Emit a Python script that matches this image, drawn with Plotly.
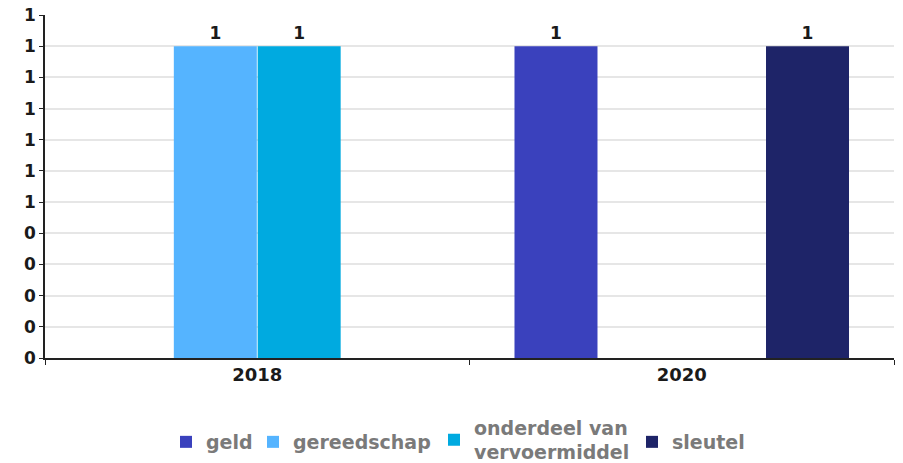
import plotly.graph_objects as go

categories = ["2018", "2020"]
series_names = ["geld", "gereedschap", "onderdeel van<br>vervoermiddel", "sleutel"]
series_values = [
    [0, 1],  # geld
    [1, 0],  # gereedschap
    [1, 0],  # onderdeel van vervoermiddel
    [0, 1],  # sleutel
]
series_colors = ["#3a41bd", "#55b4ff", "#00aae0", "#1e2468"]
y_tick_values = [0, 0.1, 0.2, 0.3, 0.4, 0.5, 0.6, 0.7, 0.8, 0.9, 1.0, 1.1]
y_tick_labels = ["0", "0", "0", "0", "0", "1", "1", "1", "1", "1", "1", "1"]

W, H = 903, 463
label_font = dict(family="DejaVu Sans", size=17, color="#1a1a1a", weight="bold")
legend_font = dict(family="DejaVu Sans", size=19, color="#7a7a7a", weight="bold")

# one legend box per series so every entry sits centred on the same row
legend_ids = ["legend", "legend2", "legend3", "legend4"]
legend_left_px = [166, 253, 434, 632]
legend_mid_px = [442, 442, 440, 442]

fig = go.Figure()
for name, vals, color, lid in zip(series_names, series_values, series_colors, legend_ids):
    fig.add_trace(go.Bar(
        x=categories,
        y=vals,
        name=name,
        legend=lid,
        marker=dict(color=color, line=dict(width=0)),
        text=[f"{v:.0f}" if v else "" for v in vals],
        textposition="outside",
        cliponaxis=False,
        textfont=label_font,
    ))

legend_layout = {}
for lid, left, mid in zip(legend_ids, legend_left_px, legend_mid_px):
    legend_layout[lid] = dict(
        orientation="h",
        xref="container",
        x=left / W,
        xanchor="left",
        yref="container",
        y=(H - mid) / H,
        yanchor="middle",
        font=legend_font,
        itemwidth=30,
        bgcolor="rgba(0,0,0,0)",
    )

fig.update_layout(
    width=W,
    height=H,
    margin=dict(l=45, r=9, t=15, b=105, autoexpand=False),
    plot_bgcolor="white",
    paper_bgcolor="white",
    barmode="group",
    bargap=0.21,
    bargroupgap=0.01,
    showlegend=True,
    xaxis=dict(
        showline=True,
        linecolor="#222222",
        linewidth=1.5,
        ticks="outside",
        tickson="boundaries",
        ticklen=5,
        tickcolor="#222222",
        showgrid=False,
        tickfont=dict(family="DejaVu Sans", size=18, color="#1a1a1a", weight="bold"),
    ),
    yaxis=dict(
        range=[0, 1.1],
        tickvals=y_tick_values,
        ticktext=y_tick_labels,
        showline=True,
        linecolor="#222222",
        linewidth=1.5,
        ticks="outside",
        ticklen=4,
        tickcolor="#222222",
        showgrid=True,
        gridcolor="#e6e6e6",
        gridwidth=1.5,
        zeroline=False,
        tickfont=label_font,
    ),
    **legend_layout,
)

fig.write_html("out.html")
